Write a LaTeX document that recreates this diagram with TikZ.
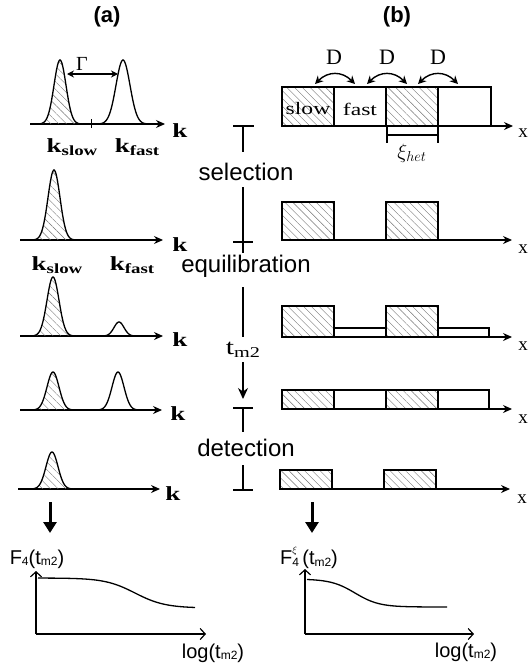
\documentclass[tikz,border=0pt]{standalone}
\usepackage{fontspec}
\setmainfont{Liberation Sans}
\newfontfamily\rmwide[FakeStretch=1.35]{Liberation Serif}
\newfontfamily\rmplain{Liberation Serif}
\usetikzlibrary{arrows.meta, patterns.meta}

\newcommand{\fs}[1]{\fontsize{#1}{#1}\selectfont}
\newcommand{\lsub}[1]{\raisebox{-1.5pt}{\fs{12}#1}}
\newcommand{\ksub}[1]{{\rmwide\bfseries\fs{20}k\raisebox{-3pt}{\fs{14}#1}}}
% gaussian peak: centre, baseline, height, width
\newcommand{\gauss}[4]{%
  \pgfmathsetmacro\pkA{#1-4*#4}\pgfmathsetmacro\pkB{#1+4*#4}%
  \draw[peakline] plot[domain=\pkA:\pkB, samples=60] (\x,{#2-#3*exp(-0.5*((\x-#1)/#4)^2)});}
\newcommand{\hgauss}[4]{%
  \pgfmathsetmacro\pkA{#1-4*#4}\pgfmathsetmacro\pkB{#1+4*#4}%
  \fill[hatch] plot[domain=\pkA:\pkB, samples=60] (\x,{#2-#3*exp(-0.5*((\x-#1)/#4)^2)}) -- cycle;
  \gauss{#1}{#2}{#3}{#4}}

\begin{document}
\begin{tikzpicture}[
    x=1pt, y=-1pt,
    box/.style={line width=1.5pt},
    hatch/.style={pattern={Lines[angle=-45,distance=5.5pt,line width=0.4pt]}, pattern color=black!55},
    peakline/.style={line width=1.3pt},
    kaxis/.style={line width=1.2pt, -{Stealth[length=9pt,width=8pt]}},
    gaxis/.style={line width=1.2pt, -{Straight Barb[length=5pt,width=11pt]}},
    bigdown/.style={line width=3pt, -{Triangle[length=11pt,width=13pt]}},
    stage/.style={line width=1.3pt},
    darrow/.style={line width=1.4pt, {Stealth[length=8pt,width=8pt]}-{Stealth[length=8pt,width=8pt]}},
    phase/.style={font=\fs{24}, inner sep=0pt},
    klab/.style={font=\rmwide\bfseries\fs{20}, inner sep=0pt},
    xlab/.style={font=\rmplain\fs{19}, inner sep=0pt},
    rlab/.style={font=\rmwide\fs{17.5}, inner sep=0pt},
    glab/.style={font=\fs{20}, inner sep=0pt}
]
\useasboundingbox (0,0) rectangle (530,664);

% Panel titles
\node[font=\bfseries\fs{22}] (titlea) at (107,17) {(a)};
\node[font=\bfseries\fs{22}] (titleb) at (397,17) {(b)};

% (a) row 1: two populations
\draw[kaxis] (30,124) -- (165,124);
\draw[line width=0.8pt] (91,119) -- (91,128);
\hgauss{60}{124}{64}{6}
\gauss{123}{124}{64}{7}
\draw[line width=1.2pt, {Stealth[length=7pt,width=7pt]}-{Stealth[length=7pt,width=7pt]}] (67,74) -- (118,74);
\node[font=\rmplain\fs{20}, inner sep=0pt] (gamma) at (82,64) {Γ};
\node[klab] (k1) at (180,131) {k};
\node[inner sep=0pt] (kslow1) at (72,147) {\ksub{slow}};
\node[inner sep=0pt] (kfast1) at (137,147) {\ksub{fast}};

% (a) row 2: after selection
\draw[kaxis] (20,240) -- (163,240);
\hgauss{54}{240}{70}{6}
\node[klab] (k2) at (180,245) {k};
\node[inner sep=0pt] (kslow2) at (57,265) {\ksub{slow}};
\node[inner sep=0pt] (kfast2) at (132,265) {\ksub{fast}};

% (a) row 3: partial exchange
\draw[kaxis] (20,336) -- (163,336);
\hgauss{53}{336}{59}{6}
\gauss{119}{336}{14}{5}
\node[klab] (k3) at (180,340) {k};

% (a) row 4: equilibrated
\draw[kaxis] (20,410) -- (162,410);
\hgauss{53}{410}{38}{6}
\gauss{118}{410}{38}{6}
\node[klab] (k4) at (178,414) {k};

% (a) row 5: detected
\draw[kaxis] (18,489) -- (160,489);
\hgauss{52}{489}{37}{6}
\node[klab] (k5) at (173,494) {k};

\draw[bigdown] (50,502) -- (50,533);

% (a) decay
\draw[gaxis] (36,634) -- (36,571);
\draw[gaxis] (36,634) -- (206,634);
\draw[peakline] plot[domain=38:195, samples=80] (\x,{578+30/(1+exp(-(\x-135)/15))});
\node[glab] (fa) at (37,559) {F\lsub{4}(t\lsub{m2})};
\node[glab] (loga) at (213,653) {log(t\lsub{m2})};

% Middle column: sequence
\node[phase] (sel) at (246,172) {selection};
\node[phase] (equil) at (246,266) {equilibration};
\node[font=\rmwide\fs{22}, inner sep=0pt] (tmtwo) at (243,350) {t\raisebox{-3pt}{\fs{15}m2}};
\node[phase] (detect) at (246,448) {detection};
\draw[stage] (233,126) -- (254,126) (243,126) -- (243,152);
\draw[stage] (243,187) -- (243,253) (233,242) -- (253,242);
\draw[stage] (243,287) -- (243,337);
\draw[stage, -{Stealth[length=11pt,width=10pt]}] (243,362) -- (243,399);
\draw[stage] (233,408) -- (253,408) (243,408) -- (243,432);
\draw[stage] (243,465) -- (243,490) (233,490) -- (253,490);

% (b) row 1: domains
\draw[box, hatch] (282,87) rectangle (334,126);
\draw[box] (334,87) rectangle (386,126);
\draw[box, hatch] (386,87) rectangle (438,126);
\draw[box] (438,87) rectangle (491,126);
\draw[kaxis] (282,126) -- (513,126);
\node[rlab] (slow) at (308,109) {slow};
\node[rlab] (fast) at (360,109) {fast};
\node[xlab] (x1) at (523,133) {x};
\draw[darrow] (315,84) .. controls (328,71) and (342,71) .. (355,84);
\draw[darrow] (367,84) .. controls (380,71) and (394,71) .. (407,84);
\draw[darrow] (418,84) .. controls (431,71) and (445,71) .. (458,84);
\node[font=\rmplain\fs{22}, inner sep=0pt] (d1) at (334,57) {D};
\node[font=\rmplain\fs{22}, inner sep=0pt] (d2) at (387,57) {D};
\node[font=\rmplain\fs{22}, inner sep=0pt] (d3) at (438,57) {D};
\draw[line width=1.2pt] (387,126) -- (387,143) (438,126) -- (438,143) (387,135) -- (438,135);
\node[font=\fs{20}, inner sep=0pt] (xihet) at (412,153) {$\xi_{het}$};

% (b) row 2
\draw[box, hatch] (282,202) rectangle (334,240);
\draw[box, hatch] (386,202) rectangle (438,240);
\draw[kaxis] (282,240) -- (512,240);
\node[xlab] (x2) at (523,249) {x};

% (b) row 3
\draw[box] (334,328) rectangle (386,337);
\draw[box] (438,328) rectangle (489,337);
\draw[box, hatch] (282,306) rectangle (334,337);
\draw[box, hatch] (386,306) rectangle (438,337);
\draw[kaxis] (282,337) -- (512,337);
\node[xlab] (x3) at (523,346) {x};

% (b) row 4
\draw[box, hatch] (282,390) rectangle (334,409);
\draw[box] (334,390) rectangle (386,409);
\draw[box, hatch] (386,390) rectangle (438,409);
\draw[box] (438,390) rectangle (489,409);
\draw[kaxis] (282,409) -- (512,409);
\node[xlab] (x4) at (523,419) {x};

% (b) row 5
\draw[box, hatch] (280,470) rectangle (332,489);
\draw[box, hatch] (384,470) rectangle (436,489);
\draw[kaxis] (280,489) -- (510,489);
\node[xlab] (x5) at (522,499) {x};

\draw[bigdown] (312,502) -- (312,533);

% (b) decay
\draw[gaxis] (305,634) -- (305,569);
\draw[gaxis] (305,634) -- (474,634);
\draw[peakline] plot[domain=307:447, samples=80] (\x,{579+28/(1+exp(-(\x-355)/12))});
\node[glab] (fb) at (309,558) {F\makebox[0pt][l]{\raisebox{11pt}{\fs{10}$\xi$}}\lsub{4}\,(t\lsub{m2})};
\node[glab] (logb) at (466,652) {log(t\lsub{m2})};

\end{tikzpicture}
\end{document}
